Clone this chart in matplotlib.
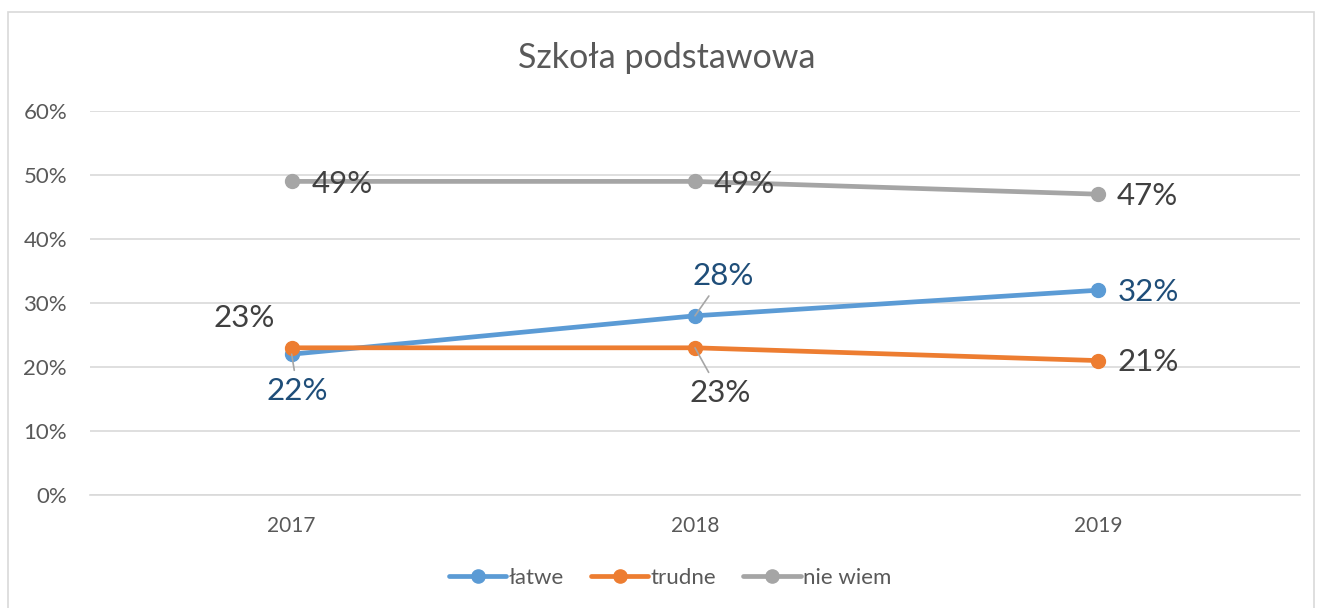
import matplotlib
matplotlib.use("Agg")
import matplotlib.pyplot as plt
from matplotlib.patches import Rectangle

plt.rcParams['font.family'] = ['Lato', 'DejaVu Sans']

years = ["2017", "2018", "2019"]
latwe = [0.22, 0.28, 0.32]
trudne = [0.23, 0.23, 0.21]
nie_wiem = [0.49, 0.49, 0.47]
series_names = ["łatwe", "trudne", "nie wiem"]
y_ticks = [0.0, 0.1, 0.2, 0.3, 0.4, 0.5, 0.6]
title = "Szkoła podstawowa"

colors = ["#5B9BD5", "#ED7D31", "#A5A5A5"]
label_colors = ["#1F4E79", "#404040", "#404040"]

W, H = 1321, 608
fig = plt.figure(figsize=(W / 100, H / 100), dpi=100)
ax = fig.add_axes([90 / W, 1 - 495 / H, 1210 / W, 384 / H])

# outer chart frame
fig.patches.append(Rectangle((8 / W, -0.01), 1306 / W, 1 - 12 / H + 0.01,
                             transform=fig.transFigure, fill=False,
                             edgecolor="#D9D9D9", linewidth=1.2))

x = list(range(len(years)))
data = [latwe, trudne, nie_wiem]
for vals, c, name in zip(data, colors, series_names):
    ax.plot(x, vals, color=c, lw=3.4, marker="o", markersize=10,
            solid_capstyle="round", label=name, zorder=3)

ax.set_xlim(-0.5, 2.5)
ax.set_ylim(0, 0.6)
ax.set_yticks(y_ticks)
ax.set_yticklabels([f"{int(round(v * 100))}%" for v in y_ticks])
ax.set_xticks(x)
ax.set_xticklabels(years)
ax.tick_params(axis="both", length=0, colors="#595959")
ax.tick_params(axis="y", pad=16.5, labelsize=16)
ax.tick_params(axis="x", pad=15, labelsize=15)
ax.grid(axis="y", color="#D9D9D9", lw=1.2)
ax.set_axisbelow(True)
for s in ["top", "right", "left"]:
    ax.spines[s].set_visible(False)
ax.spines["bottom"].set_color("#D9D9D9")
ax.spines["bottom"].set_linewidth(1.2)

# data labels: (series index, point index, dx px, dy px, leader line)
label_specs = [
    (2, 0, 51, -3, False), (2, 1, 49, -3, False), (2, 2, 49, -2, False),
    (1, 0, -47, 30, False), (1, 1, 25, -45, True), (1, 2, 50, -1, False),
    (0, 0, 6, -37, True), (0, 1, 28, 40, True), (0, 2, 50, -2, False),
]
for si, pi, dx, dy, leader in label_specs:
    v = data[si][pi]
    kw = {}
    if leader:
        kw["arrowprops"] = dict(arrowstyle="-", color="#A6A6A6", lw=1.2,
                                shrinkA=3, shrinkB=0)
    ax.annotate(f"{int(round(v * 100))}%", xy=(pi, v), xytext=(dx, dy),
                textcoords="offset pixels", ha="center", va="center",
                fontsize=22.5, color=label_colors[si], zorder=5, **kw)

fig.text(667 / W, 1 - 58 / H, title, ha="center", va="center",
         fontsize=24.5, color="#595959")

fig.legend(loc="center", bbox_to_anchor=(670 / W, 1 - 578 / H), ncol=3,
           frameon=False, fontsize=16, labelcolor="#595959",
           handlelength=2.6, handletextpad=0.1, columnspacing=1.2,
           markerscale=0.95)

fig.savefig("out.png", dpi=100)
